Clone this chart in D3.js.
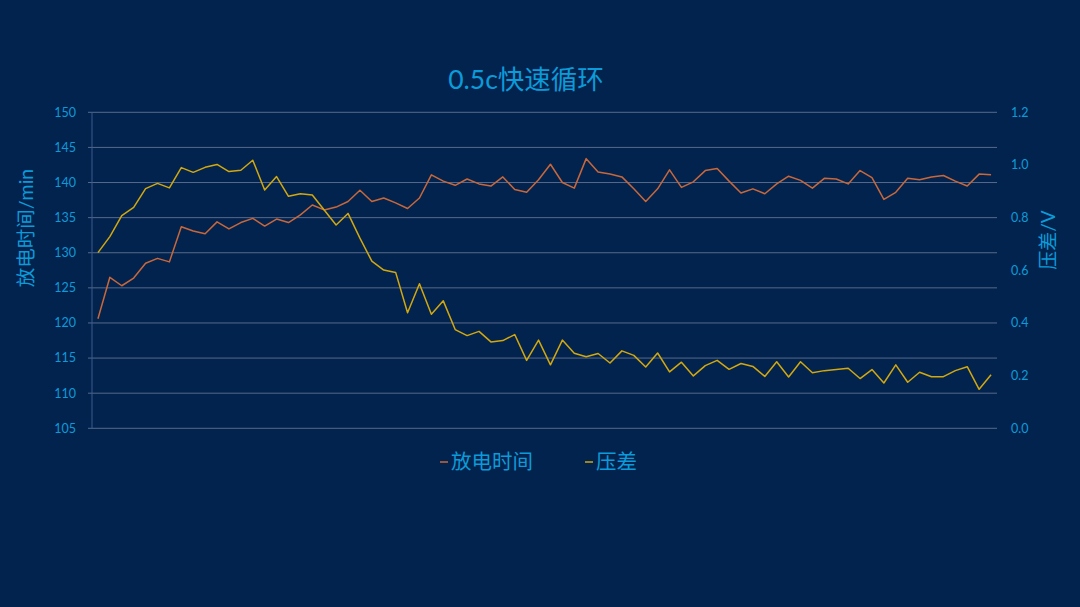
<!DOCTYPE html>
<html>
<head>
<meta charset="utf-8">
<script src="https://cdn.jsdelivr.net/npm/d3@7/dist/d3.min.js"></script>
<style>
html,body{margin:0;padding:0;background:#03234f;}
svg{display:block;}
text{font-family:Lato,"Noto Sans CJK SC",sans-serif;}
</style>
</head>
<body>
<svg id="c" width="1080" height="607"></svg>
<script>
const title = "0.5c快速循环";
const leftLabel = "放电时间/min";
const rightLabel = "压差/V";
const seriesNames = ["放电时间", "压差"];
const leftTicks = [105,110,115,120,125,130,135,140,145,150];
const rightTicks = [0.0,0.2,0.4,0.6,0.8,1.0,1.2];

const dischargeTime = [
120.6,126.5,125.3,126.4,128.5,129.2,128.7,133.7,133.1,132.7,
134.4,133.4,134.3,134.9,133.8,134.8,134.3,135.4,136.8,136.1,
136.5,137.3,138.9,137.3,137.8,137.1,136.3,137.8,141.1,140.2,
139.6,140.5,139.8,139.5,140.8,139.0,138.6,140.4,142.6,140.0,
139.2,143.4,141.5,141.2,140.8,139.1,137.3,139.1,141.8,139.3,
140.1,141.7,142.0,140.2,138.5,139.1,138.4,139.8,140.9,140.3,
139.2,140.6,140.5,139.8,141.7,140.7,137.6,138.6,140.6,140.4,
140.8,141.0,140.2,139.5,141.2,141.1
];
const voltageDiff = [
0.667,0.728,0.808,0.839,0.910,0.930,0.913,0.990,0.972,0.991,
1.002,0.975,0.980,1.018,0.905,0.956,0.881,0.891,0.886,0.829,
0.772,0.816,0.722,0.635,0.601,0.592,0.439,0.549,0.433,0.484,
0.375,0.352,0.368,0.328,0.333,0.356,0.258,0.335,0.241,0.335,
0.285,0.272,0.284,0.248,0.294,0.277,0.233,0.286,0.214,0.251,
0.199,0.238,0.258,0.224,0.246,0.235,0.197,0.253,0.195,0.253,
0.211,0.219,0.223,0.228,0.189,0.223,0.172,0.241,0.175,0.213,
0.196,0.196,0.219,0.234,0.148,0.203
];
const categories = dischargeTime.map((d,i)=>i+1);

const colors = {bg:"#03234f", text:"#0b9bd9", grid:"#56698a", axis:"#3b5d8e", orange:"#c8683a", yellow:"#d2a80f"};

const svg = d3.select("#c");
svg.append("rect").attr("width",1080).attr("height",607).attr("fill",colors.bg);

const pL=92, pR=997, pT=112.3, pB=428.3;
const x = d3.scaleBand().domain(categories).range([pL,pR]);
const xc = d => x(d) + x.bandwidth()/2;
const yL = d3.scaleLinear().domain([105,150]).range([pB,pT]);
const yR = d3.scaleLinear().domain([0,1.2]).range([pB,pT]);

// gridlines
svg.append("g").selectAll("line").data(leftTicks).join("line")
  .attr("x1",pL-4).attr("x2",pR)
  .attr("y1",d=>yL(d)).attr("y2",d=>yL(d))
  .attr("stroke",colors.grid).attr("stroke-width",1);

// left axis line
svg.append("line").attr("x1",pL).attr("x2",pL).attr("y1",pT).attr("y2",pB)
  .attr("stroke",colors.axis).attr("stroke-width",1);

// left tick labels
svg.append("g").selectAll("text").data(leftTicks).join("text")
  .attr("x",76).attr("y",d=>yL(d)).attr("dy","0.35em")
  .attr("text-anchor","end").attr("fill",colors.text).attr("font-size",12.5)
  .text(d=>d);

// right tick labels
svg.append("g").selectAll("text").data(rightTicks).join("text")
  .attr("x",1011).attr("y",d=>yR(d)).attr("dy","0.35em")
  .attr("text-anchor","start").attr("fill",colors.text).attr("font-size",12.5)
  .text(d=>d.toFixed(1));

// lines
const lineL = d3.line().x((d,i)=>xc(categories[i])).y(d=>yL(d));
const lineR = d3.line().x((d,i)=>xc(categories[i])).y(d=>yR(d));
svg.append("path").datum(dischargeTime).attr("d",lineL)
  .attr("fill","none").attr("stroke",colors.orange).attr("stroke-width",1.5).attr("stroke-linejoin","round");
svg.append("path").datum(voltageDiff).attr("d",lineR)
  .attr("fill","none").attr("stroke",colors.yellow).attr("stroke-width",1.5).attr("stroke-linejoin","round");

// title
svg.append("text").attr("x",526).attr("y",89).attr("text-anchor","middle")
  .attr("fill",colors.text).attr("font-size",26.5).text(title);

// axis titles
svg.append("text").attr("transform","translate(33,228) rotate(-90)")
  .attr("text-anchor","middle").attr("fill",colors.text).attr("font-size",19.5).text(leftLabel);
svg.append("text").attr("transform","translate(1055,240) rotate(-90)")
  .attr("text-anchor","middle").attr("fill",colors.text).attr("font-size",19).text(rightLabel);

// legend
const legendItems = [
  {name:seriesNames[0], color:colors.orange, x:440},
  {name:seriesNames[1], color:colors.yellow, x:585}
];
const lg = svg.append("g").selectAll("g").data(legendItems).join("g")
  .attr("transform",d=>`translate(${d.x},462)`);
lg.append("line").attr("x1",0).attr("x2",8).attr("y1",0).attr("y2",0)
  .attr("stroke",d=>d.color).attr("stroke-width",1.5);
lg.append("text").attr("x",11).attr("y",0).attr("dy","0.36em")
  .attr("fill",colors.text).attr("font-size",20.5).text(d=>d.name);
</script>
</body>
</html>
